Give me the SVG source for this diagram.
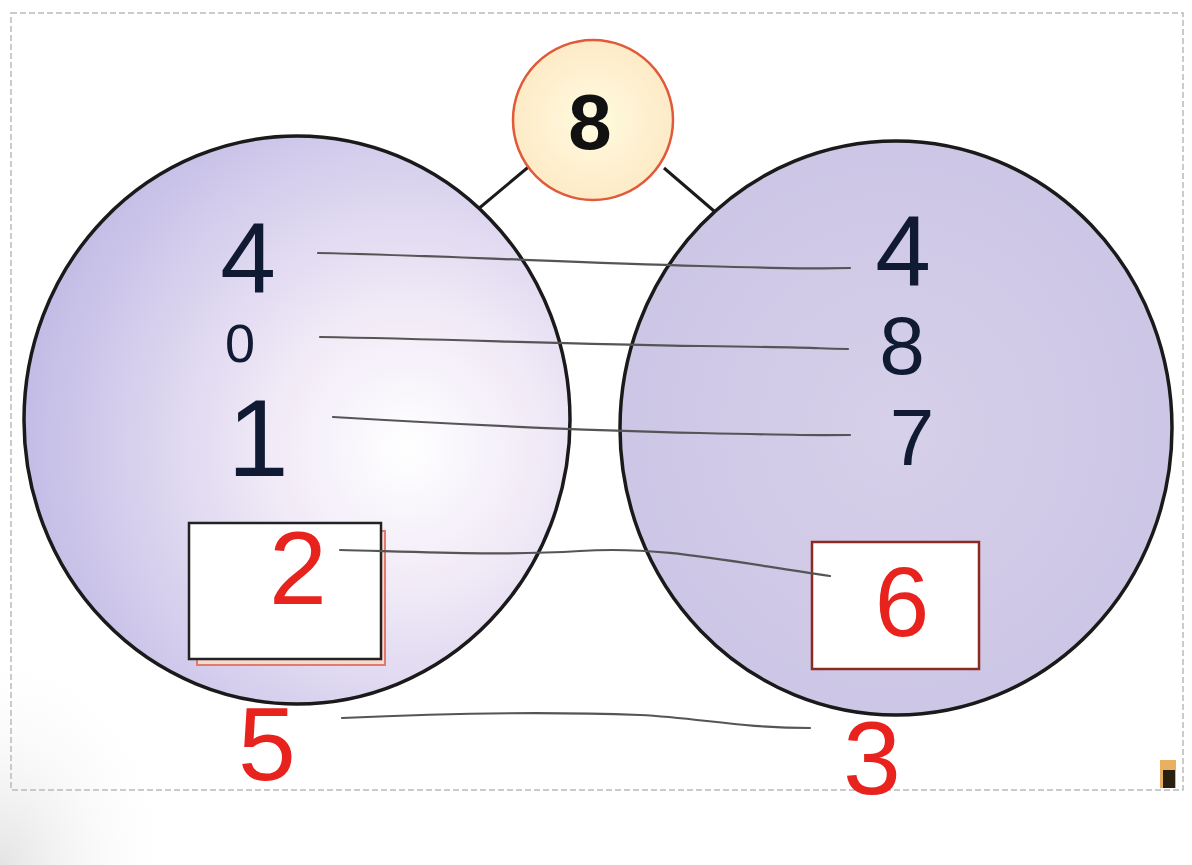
<svg xmlns="http://www.w3.org/2000/svg" width="1192" height="865" viewBox="0 0 1192 865">
<defs>
<radialGradient id="gl" cx="0.7" cy="0.55" r="0.7">
<stop offset="0" stop-color="#ffffff"/>
<stop offset="0.35" stop-color="#f1eaf7"/>
<stop offset="1" stop-color="#c3bce6"/>
</radialGradient>
<radialGradient id="gr" cx="0.5" cy="0.5" r="0.7">
<stop offset="0" stop-color="#d6d0ea"/>
<stop offset="1" stop-color="#c9c2e4"/>
</radialGradient>
<radialGradient id="gt" cx="0.5" cy="0.5" r="0.55">
<stop offset="0" stop-color="#fffbe0"/>
<stop offset="1" stop-color="#fde9c4"/>
</radialGradient>
<radialGradient id="shade" cx="0" cy="1" r="1">
<stop offset="0" stop-color="#e4e4e4"/>
<stop offset="1" stop-color="#ffffff" stop-opacity="0"/>
</radialGradient>
</defs>
<style>
.big{stroke:#1a1a1a;stroke-width:3.5}
.hand{font-family:"Liberation Sans","DejaVu Sans",sans-serif;fill:#111a33;text-anchor:middle}
.red{font-family:"Liberation Sans","DejaVu Sans",sans-serif;fill:#e8221d;text-anchor:middle}
.pen{fill:none;stroke:#555;stroke-width:2.2;stroke-linecap:round}
.border{fill:none;stroke:#bbb;stroke-width:1.5;stroke-dasharray:6 3}
</style>
<rect width="1192" height="865" fill="#ffffff"/>
<rect x="0" y="640" width="180" height="225" fill="url(#shade)"/>
<rect class="border" x="11" y="13" width="1172" height="777"/>
<g id="links">
<line x1="477" y1="210" x2="532" y2="164" stroke="#1a1a1a" stroke-width="3"/>
<line x1="664" y1="168" x2="714" y2="211" stroke="#1a1a1a" stroke-width="3"/>
</g>
<g id="left-set">
<ellipse class="big" cx="297" cy="420" rx="273" ry="284" fill="url(#gl)"/>
<text class="hand" x="248" y="293" font-size="100">4</text>
<text class="hand" x="240" y="362" font-size="54">0</text>
<text class="hand" x="258" y="476" font-size="110">1</text>
</g>
<g id="right-set">
<ellipse class="big" cx="896" cy="428" rx="276" ry="287" fill="url(#gr)"/>
<text class="hand" x="903" y="286" font-size="100">4</text>
<text class="hand" x="902" y="374" font-size="82">8</text>
<text class="hand" x="912" y="465" font-size="80">7</text>
</g>
<g id="whole">
<circle cx="593" cy="120" r="80" fill="url(#gt)" stroke="#e05a3a" stroke-width="2.5"/>
<text x="590" y="149" font-family="Liberation Sans, Arial, sans-serif" font-weight="bold" font-size="78" text-anchor="middle" fill="#111">8</text>
</g>
<g id="box-left">
<rect x="197" y="531" width="188" height="134" fill="#f6d9cf" stroke="#e07a6a" stroke-width="2"/>
<rect x="189" y="523" width="192" height="136" fill="#ffffff" stroke="#222" stroke-width="2.5"/>
<text class="red" x="298" y="604" font-size="104">2</text>
</g>
<g id="box-right">
<rect x="812" y="542" width="167" height="127" fill="#ffffff" stroke="#8a2a22" stroke-width="2.5"/>
<text class="red" x="902" y="636" font-size="98">6</text>
</g>
<g id="pair-bottom">
<text class="red" x="267" y="780" font-size="104">5</text>
<text class="red" x="872" y="794" font-size="104">3</text>
</g>
<g id="connectors">
<path class="pen" d="M318 253 C 450 256, 560 262, 700 266 S 800 268, 850 268"/>
<path class="pen" d="M320 337 C 450 339, 560 344, 700 346 S 800 348, 848 349"/>
<path class="pen" d="M333 417 C 450 424, 560 430, 700 433 S 800 435, 850 435"/>
<path class="pen" d="M340 550 C 420 552, 500 556, 580 551 C 660 546, 720 560, 830 576"/>
<path class="pen" d="M342 718 C 450 713, 560 712, 640 715 C 700 718, 740 728, 810 728"/>
</g>
<rect x="1160" y="760" width="16" height="28" fill="#e8b060"/>
<rect x="1163" y="770" width="12" height="18" fill="#2a2010"/>
</svg>
